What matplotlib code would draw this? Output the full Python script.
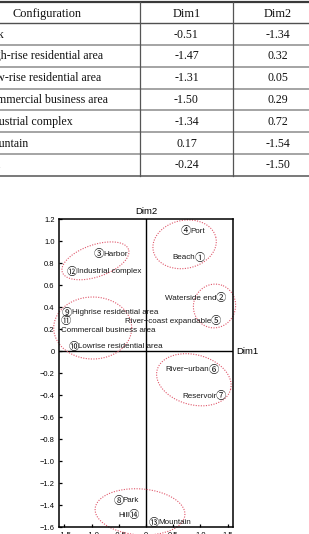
import numpy as np
import matplotlib
matplotlib.use("Agg")
import matplotlib.pyplot as plt
from matplotlib.ticker import FixedLocator, FuncFormatter

# --- table data (top part) ---
config_names = ["Park", "High-rise residential area", "Low-rise residential area",
                "Commercial business area", "Industrial complex", "Mountain", "Hill"]
config_dim1 = [-0.51, -1.47, -1.31, -1.50, -1.34, 0.17, -0.24]
config_dim2 = [-1.34, 0.32, 0.05, 0.29, 0.72, -1.54, -1.50]

# --- configuration map (bottom part) ---
place_nums = ["①", "②", "③", "④", "⑤", "⑥", "⑦", "⑧", "⑨", "⑩", "⑪", "⑫", "⑬", "⑭"]
place_names = ["Beach", "Waterside end", "Harbor", "Port", "River−coast expandable",
               "River−urban", "Reservoir", "Park", "Highrise residential area",
               "Lowrise residential area", "Commercail business area",
               "Industrial complex", "Mountain", "Hill"]
place_dim1 = [0.99, 1.38, -0.86, 0.74, 1.29, 1.24, 1.38, -0.51, -1.45, -1.33, -1.48, -1.36, 0.15, -0.23]
place_dim2 = [0.85, 0.48, 0.88, 1.09, 0.27, -0.17, -0.41, -1.36, 0.35, 0.04, 0.27, 0.72, -1.56, -1.49]
label_side = ["left", "left", "right", "right", "left", "left", "left",
              "right", "right", "right", "below", "right", "right", "left"]

# group ellipses: centre (dim1, dim2), semi-axes in pixels, angle in degrees
groups = [(-0.93, 0.82, 35, 16, 19),
          (-0.98, 0.21, 39, 31, 0),
          (0.71, 0.97, 32, 24, 12),
          (1.26, 0.41, 22, 21, 70),
          (0.88, -0.26, 38, 25, -15),
          (-0.11, -1.46, 45, 23, -4)]

xticks = [-1.5, -1.0, -0.5, 0, 0.5, 1.0, 1.5]
yticks = [1.2, 1.0, 0.8, 0.6, 0.4, 0.2, 0, -0.2, -0.4, -0.6, -0.8, -1.0, -1.2, -1.4, -1.6]

W, H = 309, 534
fig = plt.figure(figsize=(W / 100, H / 100), dpi=100)

# ---------- table, drawn in pixel coordinates ----------
tax = fig.add_axes([0, 0, 1, 1])
tax.set_xlim(0, W)
tax.set_ylim(H, 0)
tax.axis("off")

serif = ["Liberation Serif", "DejaVu Serif"]
top, head_bot, bot = 2, 23.3, 175.7
row_h = (bot - head_bot) / len(config_names)
col_x = [140, 233]

tax.plot([0, W], [top, top], color="#3a3a3a", lw=1.6)
tax.plot([0, W], [head_bot, head_bot], color="#505050", lw=1.0)
for i in range(1, len(config_names)):
    y = head_bot + i * row_h
    tax.plot([0, W], [y, y], color="#8c8c8c", lw=1.1)
tax.plot([0, W], [bot, bot], color="#555555", lw=1.1)
for x in col_x:
    tax.plot([x, x], [top, bot], color="#555555", lw=0.9)

for xc, head in zip([47, 186.5, 278], ["Configuration", "Dim1", "Dim2"]):
    tax.text(xc, (top + head_bot) / 2 + 1, head, family=serif, fontsize=8.8,
             ha="center", va="center", color="#111111")
for i, name in enumerate(config_names):
    yc = head_bot + (i + 0.5) * row_h + 0.5
    tax.text(-17, yc, name, family=serif, fontsize=8.6, ha="left", va="center", color="#111111")
    tax.text(186.5, yc, f"{config_dim1[i]:.2f}", family=serif, fontsize=8.6,
             ha="center", va="center", color="#111111")
    tax.text(278, yc, f"{config_dim2[i]:.2f}", family=serif, fontsize=8.6,
             ha="center", va="center", color="#111111")

# ---------- scatter map ----------
sans = ["Liberation Sans", "Noto Sans CJK KR", "DejaVu Sans"]
circ = ["Noto Sans CJK KR", "DejaVu Sans"]
ax = fig.add_axes([59 / W, 6.7 / H, 174 / W, 308.3 / H])
ax.set_xlim(-1.6, 1.6)
ax.set_ylim(-1.6, 1.2)
for s in ax.spines.values():
    s.set_linewidth(1.1)
ax.axhline(0, color="black", lw=1.0)
ax.axvline(0, color="black", lw=1.0)

ax.xaxis.set_major_locator(FixedLocator(xticks))
ax.yaxis.set_major_locator(FixedLocator(yticks))
fmt = FuncFormatter(lambda v, p: "0" if abs(v) < 1e-9 else f"{v:.1f}".replace("-", "−"))
ax.xaxis.set_major_formatter(fmt)
ax.yaxis.set_major_formatter(fmt)
ax.tick_params(direction="in", length=2.2, width=0.9, pad=3.2, labelsize=5.4)
for lab in ax.get_xticklabels() + ax.get_yticklabels():
    lab.set_family(sans)

ax.annotate("Dim2", (0, 1.2), xytext=(0, 2.5), textcoords="offset points",
            ha="center", va="bottom", fontsize=6.8, family=sans, annotation_clip=False)
ax.annotate("Dim1", (1.6, 0), xytext=(2, 0), textcoords="offset points",
            ha="left", va="center", fontsize=6.8, family=sans, annotation_clip=False)

ink = "#1a1a1a"
for x, y, num, name, side in zip(place_dim1, place_dim2, place_nums, place_names, label_side):
    ax.text(x, y, num, ha="center", va="center", fontsize=7.4, family=circ, color=ink)
    if side == "left":
        ax.annotate(name, (x, y), xytext=(-3.3, 0), textcoords="offset points",
                    ha="right", va="center", fontsize=5.8, family=sans, color=ink)
    elif side == "right":
        ax.annotate(name, (x, y), xytext=(3.3, 0), textcoords="offset points",
                    ha="left", va="center", fontsize=5.8, family=sans, color=ink)
    else:
        ax.annotate(name, (x, y), xytext=(-3.4, -6.3), textcoords="offset points",
                    ha="left", va="center", fontsize=5.8, family=sans, color=ink)

# pixels per data unit, used to draw the dotted group ellipses
sx = 174 / 3.2
sy = 308.3 / 2.8
t = np.linspace(0, 2 * np.pi, 240)
for cx, cy, a, b, ang in groups:
    th = np.radians(ang)
    dx = a * np.cos(t) * np.cos(th) - b * np.sin(t) * np.sin(th)
    dy = a * np.cos(t) * np.sin(th) + b * np.sin(t) * np.cos(th)
    ax.plot(cx + dx / sx, cy + dy / sy, ls=(0, (1, 1.3)), lw=0.8, color="#e0566a", clip_on=False)

fig.savefig("out.png", dpi=100)
